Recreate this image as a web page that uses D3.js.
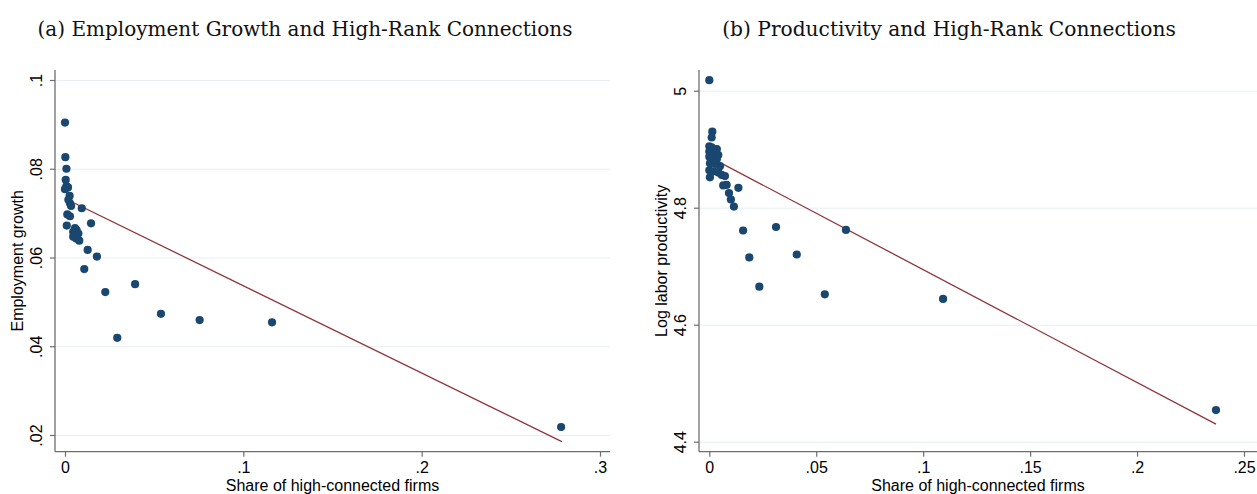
<!DOCTYPE html>
<html>
<head>
<meta charset="utf-8">
<script src="https://cdn.jsdelivr.net/npm/d3@7"></script>
<style>
  body { margin: 0; background: #fff; }
  svg { display: block; }
  .tick text { font-family: "Liberation Sans", Arial, sans-serif; font-size: 16px; fill: #000; }
  .axis-title { font-family: "Liberation Sans", Arial, sans-serif; font-size: 16px; fill: #000; }
  .panel-title { font-family: "DejaVu Serif", serif; fill: #111; }
</style>
</head>
<body>
<script>
// panel (a): employment growth vs share of high-connected firms
const empShare = [0.0000, 0.0002, 0.0008, 0.0004, 0.0008, 0.0017, 0.0000, 0.0026, 0.0019, 0.0028,
  0.0034, 0.0094, 0.0013, 0.0028, 0.0146, 0.0010, 0.0056, 0.0065, 0.0046, 0.0075,
  0.0046, 0.0062, 0.0080, 0.0127, 0.0179, 0.0108, 0.0226, 0.0393, 0.0293, 0.0538,
  0.0755, 0.1161, 0.2782];
const empGrowth = [0.0904, 0.0826, 0.0800, 0.0775, 0.0761, 0.0758, 0.0754, 0.0739, 0.0730, 0.0722,
  0.0716, 0.0711, 0.0697, 0.0693, 0.0677, 0.0672, 0.0666, 0.0662, 0.0658, 0.0654,
  0.0647, 0.0643, 0.0638, 0.0617, 0.0602, 0.0574, 0.0522, 0.0540, 0.0419, 0.0473,
  0.0459, 0.0454, 0.0218];
const empFitX = [0.0000, 0.2786];
const empFitY = [0.0733, 0.0185];
const empXTicks = [0, 0.1, 0.2, 0.3];
const empXLabels = ['0', '.1', '.2', '.3'];
const empYTicks = [0.02, 0.04, 0.06, 0.08, 0.1];
const empYLabels = ['.02', '.04', '.06', '.08', '.1'];

// panel (b): log labor productivity vs share of high-connected firms
const prodShare = [0.0000, 0.0014, 0.0011, 0.0000, 0.0011, 0.0035, 0.0000, 0.0019, 0.0042, 0.0000,
  0.0011, 0.0035, 0.0003, 0.0027, 0.0050, 0.0000, 0.0019, 0.0042, 0.0058, 0.0073,
  0.0003, 0.0065, 0.0081, 0.0136, 0.0092, 0.0101, 0.0115, 0.0158, 0.0312, 0.0187,
  0.0234, 0.0409, 0.0540, 0.0639, 0.1093, 0.2369];
const prodLog = [5.018, 4.930, 4.920, 4.905, 4.903, 4.900, 4.896, 4.893, 4.890, 4.887,
  4.884, 4.883, 4.876, 4.875, 4.871, 4.864, 4.862, 4.860, 4.856, 4.854,
  4.852, 4.838, 4.839, 4.834, 4.825, 4.814, 4.802, 4.761, 4.767, 4.715,
  4.665, 4.720, 4.652, 4.762, 4.644, 4.454];
const prodFitX = [0.0000, 0.2369];
const prodFitY = [4.887, 4.430];
const prodXTicks = [0, 0.05, 0.1, 0.15, 0.2, 0.25];
const prodXLabels = ['0', '.05', '.1', '.15', '.2', '.25'];
const prodYTicks = [4.4, 4.6, 4.8, 5];
const prodYLabels = ['4.4', '4.6', '4.8', '5'];

const W = 1257, H = 494;
const dotColor = '#1a476f', fitColor = '#90353b', axisColor = '#6e6e6e', gridColor = '#e6eef1';

const svg = d3.select('body').append('svg')
    .attr('width', W)
    .attr('height', H);

const panels = [
  {
    title: '(a) Employment Growth and High-Rank Connections', titleX: 305, titleW: 535,
    ytitle: 'Employment growth', ytitleX: 22.5,
    left: 55, right: 610, top: 70, bottom: 451.7,
    xDomain: [0, 0.3], xRange: [65, 600], yDomain: [0.02, 0.1], yRange: [435, 80],
    xs: empShare, ys: empGrowth, fx: empFitX, fy: empFitY,
    xt: empXTicks, xl: empXLabels, yt: empYTicks, yl: empYLabels
  },
  {
    title: '(b) Productivity and High-Rank Connections', titleX: 949, titleW: 454,
    ytitle: 'Log labor productivity', ytitleX: 666.5,
    left: 699, right: 1257, top: 70, bottom: 451.7,
    xDomain: [0, 0.25], xRange: [709.3, 1244], yDomain: [4.4, 5], yRange: [441.7, 90.7],
    xs: prodShare, ys: prodLog, fx: prodFitX, fy: prodFitY,
    xt: prodXTicks, xl: prodXLabels, yt: prodYTicks, yl: prodYLabels
  }
];

panels.forEach(p => {
  const g = svg.append('g');
  const xScale = d3.scaleLinear().domain(p.xDomain).range(p.xRange);
  const yScale = d3.scaleLinear().domain(p.yDomain).range(p.yRange);

  // gridlines
  g.append('g')
      .attr('transform', `translate(${p.left},0)`)
      .call(d3.axisLeft(yScale).tickValues(p.yt).tickSize(-(p.right - p.left)).tickFormat(''))
      .call(s => s.select('.domain').remove())
      .selectAll('line')
      .attr('stroke', gridColor)
      .attr('stroke-width', 1);

  // fit line
  const fit = p.fx.map((x, i) => [x, p.fy[i]]);
  g.append('path')
      .datum(fit)
      .attr('fill', 'none')
      .attr('stroke', fitColor)
      .attr('stroke-width', 1.3)
      .attr('d', d3.line().x(d => xScale(d[0])).y(d => yScale(d[1])));

  // dots
  const pts = p.xs.map((x, i) => [x, p.ys[i]]);
  g.selectAll('.dot')
      .data(pts)
      .enter()
      .append('circle')
      .classed('dot', true)
      .attr('cx', d => xScale(d[0]))
      .attr('cy', d => yScale(d[1]))
      .attr('r', 4.1)
      .attr('fill', dotColor);

  // y axis
  const yAxis = g.append('g')
      .attr('transform', `translate(${p.left},0)`)
      .call(d3.axisLeft(yScale).tickValues(p.yt).tickSize(5).tickFormat((d, i) => p.yl[i]));
  yAxis.select('.domain').remove();
  yAxis.selectAll('.tick line').attr('stroke', axisColor).attr('stroke-width', 1.2);
  yAxis.selectAll('.tick text')
      .attr('transform', 'rotate(-90)')
      .attr('x', 0)
      .attr('y', -13)
      .attr('dy', 0)
      .attr('text-anchor', 'middle');

  // x axis
  const xAxis = g.append('g')
      .attr('transform', `translate(0,${p.bottom})`)
      .call(d3.axisBottom(xScale).tickValues(p.xt).tickSize(5).tickFormat((d, i) => p.xl[i]));
  xAxis.select('.domain').remove();
  xAxis.selectAll('.tick line').attr('stroke', axisColor).attr('stroke-width', 1.2);
  xAxis.selectAll('.tick text').attr('y', 0).attr('dy', 21.5);

  // axis lines
  g.append('line')
      .attr('x1', p.left).attr('x2', p.left)
      .attr('y1', p.top).attr('y2', p.bottom)
      .attr('stroke', axisColor).attr('stroke-width', 1.3);
  g.append('line')
      .attr('x1', p.left).attr('x2', p.right)
      .attr('y1', p.bottom).attr('y2', p.bottom)
      .attr('stroke', axisColor).attr('stroke-width', 1.3);

  // axis titles
  g.append('text')
      .classed('axis-title', true)
      .attr('x', (p.left + p.right) / 2)
      .attr('y', 491)
      .attr('text-anchor', 'middle')
      .text('Share of high-connected firms');

  g.append('text')
      .classed('axis-title', true)
      .attr('transform', `translate(${p.ytitleX},${(p.top + p.bottom) / 2}) rotate(-90)`)
      .attr('text-anchor', 'middle')
      .text(p.ytitle);

  // panel title, sized to the reference width
  const t = g.append('text')
      .classed('panel-title', true)
      .attr('x', p.titleX)
      .attr('y', 36)
      .attr('text-anchor', 'middle')
      .style('font-size', '17px')
      .text(p.title);
  const w = t.node().getComputedTextLength();
  t.style('font-size', (17 * p.titleW / w).toFixed(2) + 'px');
});
</script>
</body>
</html>
